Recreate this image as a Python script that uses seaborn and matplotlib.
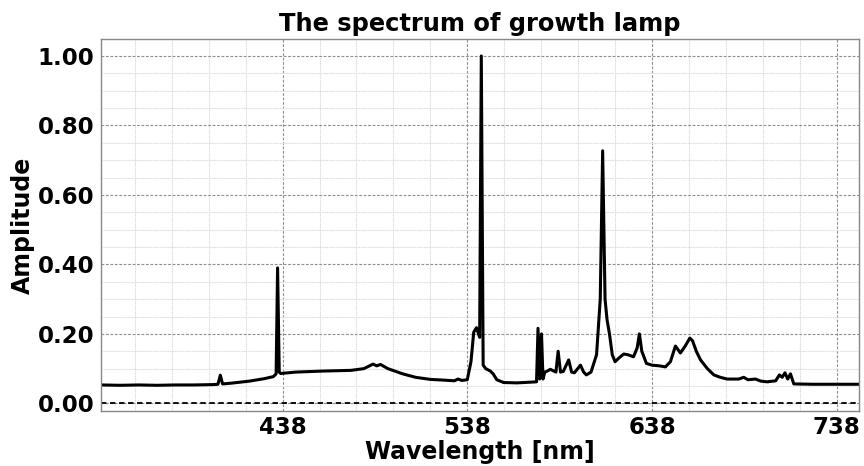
import numpy as np
import pandas as pd
import matplotlib
matplotlib.use("Agg")
import matplotlib.pyplot as plt
from matplotlib.ticker import MultipleLocator, FixedLocator
import seaborn as sns

wavelength = [340, 350, 360, 370, 380, 390, 400, 403, 404.3, 405.5, 410, 420, 428, 433,
              434.5, 435.3, 436.2, 437, 445, 460, 475, 482, 487, 489, 491, 495, 503,
              510, 518, 525, 531, 533, 535, 538, 540, 541.5, 543, 544.7, 545.6, 546.6,
              548, 550.5, 552, 554, 557.7, 565, 575.5, 576.3, 577.2, 578.2, 579, 580,
              581, 583, 586, 587.2, 588.5, 590, 592.9, 594.5, 596, 599.3, 601, 602.5,
              605, 608, 610, 611.3, 612.6, 613.7, 615, 616.5, 618, 620, 622.7, 625, 628,
              630, 631.2, 632.5, 635, 638, 642, 645.3, 648, 650.7, 653.4, 656, 658.5,
              660, 662, 664.3, 668, 671.5, 675, 678.7, 685, 687.7, 690, 694, 697, 700.4,
              705, 707, 708.5, 710, 711.5, 713, 714.8, 725, 740, 750]
amplitude = [0.053, 0.052, 0.053, 0.052, 0.053, 0.053, 0.054, 0.055, 0.081, 0.056, 0.058,
             0.064, 0.071, 0.077, 0.085, 0.39, 0.09, 0.086, 0.09, 0.093, 0.095, 0.1, 0.113,
             0.108, 0.112, 0.1, 0.085, 0.075, 0.069, 0.067, 0.065, 0.07, 0.066, 0.068,
             0.12, 0.205, 0.218, 0.19, 1.0, 0.11, 0.1, 0.093, 0.085, 0.068, 0.06, 0.059,
             0.062, 0.216, 0.07, 0.2, 0.07, 0.09, 0.092, 0.098, 0.09, 0.15, 0.09, 0.092,
             0.125, 0.09, 0.088, 0.11, 0.09, 0.082, 0.09, 0.14, 0.3, 0.727, 0.3, 0.24,
             0.2, 0.14, 0.12, 0.13, 0.142, 0.14, 0.134, 0.16, 0.2, 0.15, 0.115, 0.11,
             0.108, 0.105, 0.12, 0.165, 0.145, 0.165, 0.188, 0.18, 0.15, 0.125, 0.1,
             0.082, 0.075, 0.07, 0.07, 0.075, 0.068, 0.07, 0.064, 0.062, 0.065, 0.082,
             0.075, 0.088, 0.07, 0.085, 0.056, 0.055, 0.055, 0.055]
x_ticks = [438, 538, 638, 738]
y_ticks = [0.0, 0.2, 0.4, 0.6, 0.8, 1.0]

df = pd.DataFrame({"Wavelength": wavelength, "Amplitude": amplitude})

sns.set_theme(style="white")
plt.rcParams['font.family'] = ['DejaVu Sans']
plt.rcParams['text.color'] = 'black'
plt.rcParams['axes.labelcolor'] = 'black'
plt.rcParams['xtick.color'] = 'black'
plt.rcParams['ytick.color'] = 'black'

fig = plt.figure(figsize=(8.64, 4.66), dpi=100)
ax = fig.add_axes([0.1165, 0.118, 0.8775, 0.7977])

sns.lineplot(data=df, x="Wavelength", y="Amplitude", color="black", linewidth=2.2, ax=ax)
ax.axhline(0, color="black", linestyle=(0, (3, 2)), linewidth=1.3)

ax.set_xlim(339.5, 750)
ax.set_ylim(-0.022, 1.048)
ax.xaxis.set_major_locator(FixedLocator(x_ticks))
ax.xaxis.set_minor_locator(MultipleLocator(20, offset=18))
ax.yaxis.set_major_locator(FixedLocator(y_ticks))
ax.yaxis.set_minor_locator(MultipleLocator(0.05))
ax.set_xticklabels([str(t) for t in x_ticks])
ax.set_yticklabels([f"{t:.2f}" for t in y_ticks])

ax.grid(which="major", color="#8f8f8f", linestyle=(0, (2.5, 1.5)), linewidth=0.8)
ax.grid(which="minor", color="#dedede", linestyle=(0, (1.5, 0.7)), linewidth=0.8)
ax.set_axisbelow(True)

for s in ax.spines.values():
    s.set_color("#888888")
    s.set_linewidth(1.0)

ax.tick_params(axis="both", which="both", length=0)
ax.tick_params(axis="x", which="major", labelsize=16.5, pad=3.5)
ax.tick_params(axis="y", which="major", labelsize=16.5, pad=4.5)
for lbl in ax.get_xticklabels() + ax.get_yticklabels():
    lbl.set_fontweight("bold")

ax.set_xlabel("Wavelength [nm]", fontsize=17, fontweight="bold", labelpad=1)
ax.set_ylabel("Amplitude", fontsize=17, fontweight="bold", labelpad=2)
ax.set_title("The spectrum of growth lamp", fontsize=17.4, fontweight="bold", pad=6)

fig.savefig("out.png", dpi=100)
